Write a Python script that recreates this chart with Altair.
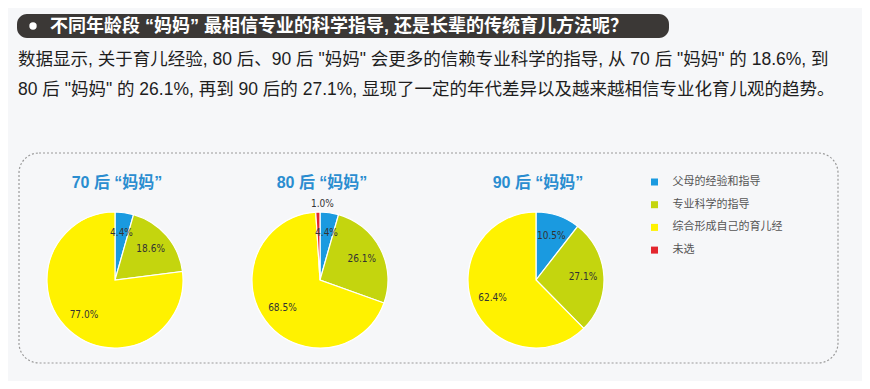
import altair as alt
import pandas as pd

# ---- data ----
groups = ["70 后 “妈妈”", "80 后 “妈妈”", "90 后 “妈妈”"]
categories = ["父母的经验和指导", "专业科学的指导", "综合形成自己的育儿经", "未选"]
colors = ["#1a9ae0", "#c4d50e", "#fff200", "#e3262e"]
values_70 = [4.4, 18.6, 77.0, 0.0]
values_80 = [4.4, 26.1, 68.5, 1.0]
values_90 = [10.5, 27.1, 62.4, 0.0]

title_text = "不同年龄段 “妈妈” 最相信专业的科学指导, 还是长辈的传统育儿方法呢？"
para_line1 = "数据显示, 关于育儿经验, 80 后、90 后 \"妈妈\" 会更多的信赖专业科学的指导, 从 70 后 \"妈妈\" 的 18.6%, 到"
para_line2 = "80 后 \"妈妈\" 的 26.1%, 再到 90 后的 27.1%, 显现了一定的年代差异以及越来越相信专业化育儿观的趋势。"

rows = []
for g, vals in zip(groups, [values_70, values_80, values_90]):
    for i, (c, v) in enumerate(zip(categories, vals)):
        if v > 0:
            rows.append({"group": g, "category": c, "value": v, "idx": i})
df = pd.DataFrame(rows)

one = pd.DataFrame({"a": [0]})
CJK = "Noto Sans CJK SC"
MIX = "Liberation Sans, Noto Sans CJK SC, sans-serif"
NUM = "Liberation Sans Narrow, DejaVu Sans Condensed, sans-serif"

centers_x = [107, 312, 528]
center_y = 272
R = 68

layers = []

# dashed frame
layers.append(
    alt.Chart(one).mark_rect(cornerRadius=20, fillOpacity=0, stroke="#9a9a9a",
                             strokeWidth=1.2, strokeDash=[2, 2])
    .encode(x=alt.value(11), x2=alt.value(830), y=alt.value(145), y2=alt.value(355))
)
# header box
layers.append(
    alt.Chart(one).mark_rect(cornerRadius=10, color="#3b3836")
    .encode(x=alt.value(9), x2=alt.value(661), y=alt.value(6), y2=alt.value(30))
)
layers.append(
    alt.Chart(one).mark_point(filled=True, color="white", size=55, opacity=1, shape="circle")
    .encode(x=alt.value(25), y=alt.value(18))
)
layers.append(
    alt.Chart(pd.DataFrame({"t": [title_text]})).mark_text(
        font=MIX, fontSize=18, fontWeight="bold", color="white", align="left", baseline="middle")
    .encode(text="t:N", x=alt.value(42), y=alt.value(18.5))
)
for txt, yy in [(para_line1, 52), (para_line2, 82)]:
    layers.append(
        alt.Chart(pd.DataFrame({"t": [txt]})).mark_text(
            font=MIX, fontSize=17.5, color="#1e1e1e", align="left", baseline="middle")
        .encode(text="t:N", x=alt.value(10), y=alt.value(yy))
    )

for k, (g, cx) in enumerate(zip(groups, centers_x)):
    base = alt.Chart(df).transform_filter(alt.datum.group == g)
    legend = None
    if k == 0:
        legend = alt.Legend(title=None, orient="none", legendX=641, legendY=168.5,
                            symbolType="square", symbolSize=49, symbolStrokeWidth=0,
                            labelFont=CJK, labelFontSize=11, labelColor="#555555",
                            rowPadding=10.7, labelOffset=12.5, padding=0)
    arc = base.mark_arc(outerRadius=R, stroke="white", strokeWidth=1.2).encode(
        theta=alt.Theta("value:Q", stack=True),
        color=alt.Color("category:N", scale=alt.Scale(domain=categories, range=colors),
                        sort=categories, legend=legend),
        order=alt.Order("idx:Q"),
        x=alt.value(cx), y=alt.value(center_y),
    )
    lab = base.transform_calculate(
        label="format(datum.value, '.1f') + '%'",
        r="datum.value < 2 ? 76 : 47",
    ).mark_text(font=NUM, fontSize=10, color="#333333").encode(
        theta=alt.Theta("value:Q", stack=True),
        radius=alt.Radius("r:Q", scale=None),
        text="label:N",
        order=alt.Order("idx:Q"),
        x=alt.value(cx), y=alt.value(center_y),
    )
    ttl = alt.Chart(pd.DataFrame({"t": [g]})).mark_text(
        font=MIX, fontSize=16, fontWeight="bold", color="#2a8dd0", align="center", baseline="middle"
    ).encode(text="t:N", x=alt.value(cx + 2), y=alt.value(175))
    layers += [arc, lab, ttl]

chart = alt.layer(*layers).properties(
    width=854, height=373, background="#f6f7f9",
    autosize=alt.AutoSizeParams(type="fit", contains="padding"), padding=0,
).configure_view(stroke=None)

chart.save("out.html", embed_options={"renderer": "svg", "actions": False})
